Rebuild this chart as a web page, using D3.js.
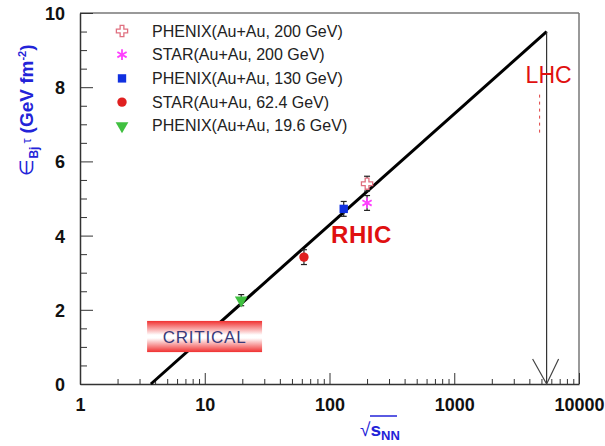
<!DOCTYPE html>
<html>
<head>
<meta charset="utf-8">
<script src="https://cdn.jsdelivr.net/npm/d3@7"></script>
<style>
  body { margin: 0; background: #fff; }
  svg { font-family: "Liberation Sans", Arial, sans-serif; }
</style>
</head>
<body>
<div id="chart"></div>
<script>
const seriesLabels = [
  "PHENIX(Au+Au, 200 GeV)",
  "STAR(Au+Au, 200 GeV)",
  "PHENIX(Au+Au, 130 GeV)",
  "STAR(Au+Au, 62.4 GeV)",
  "PHENIX(Au+Au, 19.6 GeV)"
];
const energies = [200, 200, 130, 62.4, 19.6];
const values = [5.4, 4.88, 4.72, 3.42, 2.26];
const errors = [0.2, 0.2, 0.2, 0.2, 0.15];
const fitLine = [[3.7, 0], [5500, 9.5]];
const lhcEnergy = 5500;
const criticalBand = { x: [3.45, 28.8], y: [0.86, 1.7] };
const xTicks = [1, 10, 100, 1000, 10000];
const yTicks = [0, 2, 4, 6, 8, 10];

const width = 605, height = 446;
const margin = { top: 13, right: 26, bottom: 62, left: 80 };
const chartWidth = width - margin.left - margin.right;
const chartHeight = height - margin.top - margin.bottom;

const svg = d3.select("#chart").append("svg")
  .attr("width", width)
  .attr("height", height);

const g = svg.append("g").attr("transform", `translate(${margin.left},${margin.top})`);

const x = d3.scaleLog().domain([1, 10000]).range([0, chartWidth]);
const y = d3.scaleLinear().domain([0, 10]).range([chartHeight, 0]);

// gradient for the CRITICAL band
const grad = svg.append("defs").append("linearGradient")
  .attr("id", "crit").attr("x1", 0).attr("x2", 0).attr("y1", 0).attr("y2", 1);
grad.append("stop").attr("offset", "0%").attr("stop-color", "#f03030");
grad.append("stop").attr("offset", "45%").attr("stop-color", "#ffffff");
grad.append("stop").attr("offset", "55%").attr("stop-color", "#ffffff");
grad.append("stop").attr("offset", "100%").attr("stop-color", "#f03030");

// frame (top and right)
g.append("line").attr("x1", 0).attr("x2", chartWidth).attr("y1", 0).attr("y2", 0)
  .attr("stroke", "#777").attr("stroke-width", 1.5);
g.append("line").attr("x1", chartWidth).attr("x2", chartWidth).attr("y1", 0).attr("y2", chartHeight)
  .attr("stroke", "#777").attr("stroke-width", 1.5);

// minor ticks
const xMinor = [];
for (let d = 1; d < 10000; d *= 10) for (let k = 2; k <= 9; k++) xMinor.push(d * k);
g.append("g").attr("transform", `translate(0,${chartHeight})`)
  .call(d3.axisBottom(x).tickValues(xMinor).tickSizeInner(-5).tickSizeOuter(0).tickFormat(""))
  .call(a => a.select(".domain").remove())
  .selectAll("line").attr("stroke", "#333");

const yMinor = d3.range(0, 10.01, 0.5).filter(v => v % 2 !== 0);
g.append("g")
  .call(d3.axisLeft(y).tickValues(yMinor).tickSizeInner(-7).tickSizeOuter(0).tickFormat(""))
  .call(a => a.select(".domain").remove())
  .selectAll("line").attr("stroke", "#333");

// major axes
const xAxis = g.append("g").attr("transform", `translate(0,${chartHeight})`)
  .call(d3.axisBottom(x).tickValues(xTicks).tickSizeInner(-11).tickSizeOuter(0)
    .tickPadding(14).tickFormat(d3.format("d")));
const yAxis = g.append("g")
  .call(d3.axisLeft(y).tickValues(yTicks).tickSizeInner(-13).tickSizeOuter(0)
    .tickPadding(15).tickFormat(d3.format("d")));

[xAxis, yAxis].forEach(a => {
  a.select(".domain").attr("stroke", "#333").attr("stroke-width", 1.5);
  a.selectAll("line").attr("stroke", "#333");
  a.selectAll("text").attr("font-size", "18px").attr("font-weight", "bold")
    .attr("fill", "#111").attr("font-family", "'Liberation Sans', Arial, sans-serif");
});
yAxis.selectAll("text").attr("dy", "0.36em");

// fit line
g.append("path")
  .datum(fitLine)
  .attr("fill", "none")
  .attr("stroke", "#000")
  .attr("stroke-width", 3)
  .attr("d", d3.line().x(d => x(d[0])).y(d => y(d[1])));

// CRITICAL band (drawn over the line)
g.append("rect")
  .attr("x", x(criticalBand.x[0]))
  .attr("y", y(criticalBand.y[1]))
  .attr("width", x(criticalBand.x[1]) - x(criticalBand.x[0]))
  .attr("height", y(criticalBand.y[0]) - y(criticalBand.y[1]))
  .attr("fill", "url(#crit)");

g.append("text")
  .attr("x", (x(criticalBand.x[0]) + x(criticalBand.x[1])) / 2)
  .attr("y", y((criticalBand.y[0] + criticalBand.y[1]) / 2) + 6)
  .attr("text-anchor", "middle")
  .attr("font-size", "17px")
  .attr("letter-spacing", "0.8px")
  .attr("fill", "#3a3a7a")
  .text("CRITICAL");

// LHC vertical line with arrow head
const lx = x(lhcEnergy);
g.append("line").attr("x1", lx).attr("x2", lx).attr("y1", y(fitLine[1][1])).attr("y2", chartHeight)
  .attr("stroke", "#333").attr("stroke-width", 1.2);
g.append("path")
  .attr("d", `M${lx - 14},${chartHeight - 25}L${lx},${chartHeight}L${lx + 12},${chartHeight - 25}`)
  .attr("fill", "none").attr("stroke", "#444").attr("stroke-width", 1.2);

g.append("text")
  .attr("x", lx - 21).attr("y", y(8.1))
  .attr("font-size", "23px").attr("fill", "#e01010")
  .text("LHC");
g.append("line")
  .attr("x1", lx - 7).attr("x2", lx - 7).attr("y1", y(7.8)).attr("y2", y(6.7))
  .attr("stroke", "#e04040").attr("stroke-width", 1).attr("stroke-dasharray", "3,4");

g.append("text")
  .attr("x", x(103)).attr("y", y(3.8))
  .attr("font-size", "24px").attr("font-weight", "bold").attr("fill", "#e01010")
  .attr("letter-spacing", "0.5px")
  .text("RHIC");

// markers
const colors = ["#e07080", "#ff40ff", "#1030e0", "#e02020", "#40c040"];
function drawMarker(sel, i) {
  if (i === 0) {
    sel.append("path").attr("d", d3.symbol(d3.symbolCross, 70)())
      .attr("fill", "#fff").attr("stroke", colors[i]).attr("stroke-width", 1.3);
  } else if (i === 1) {
    sel.append("path").attr("d", d3.symbol(d3.symbolAsterisk, 80)())
      .attr("fill", "none").attr("stroke", colors[i]).attr("stroke-width", 1.8);
  } else if (i === 2) {
    sel.append("path").attr("d", d3.symbol(d3.symbolSquare, 70)()).attr("fill", colors[i]);
  } else if (i === 3) {
    sel.append("path").attr("d", d3.symbol(d3.symbolCircle, 70)()).attr("fill", colors[i]);
  } else {
    sel.append("path").attr("d", d3.symbol(d3.symbolTriangle, 70)())
      .attr("transform", "rotate(180)").attr("fill", colors[i]);
  }
}

// error bars
const pts = energies.map((e, i) => ({ e, v: values[i], err: errors[i], i }));
const eb = g.selectAll(".err").data(pts).enter().append("g");
eb.append("line")
  .attr("x1", d => x(d.e)).attr("x2", d => x(d.e))
  .attr("y1", d => y(d.v + d.err)).attr("y2", d => y(d.v - d.err))
  .attr("stroke", "#222").attr("stroke-width", 1.2);
[1, -1].forEach(s => {
  eb.append("line")
    .attr("x1", d => x(d.e) - 3).attr("x2", d => x(d.e) + 3)
    .attr("y1", d => y(d.v + s * d.err)).attr("y2", d => y(d.v + s * d.err))
    .attr("stroke", "#222").attr("stroke-width", 1.2);
});

g.selectAll(".pt").data(pts).enter().append("g")
  .attr("transform", d => `translate(${x(d.e)},${y(d.v)})`)
  .each(function (d) { drawMarker(d3.select(this), d.i); });

// legend
const legend = svg.append("g").attr("transform", "translate(122,31)");
seriesLabels.forEach((label, i) => {
  const row = legend.append("g").attr("transform", `translate(0,${i * 23.7})`);
  drawMarker(row, i);
  row.append("text").attr("x", 30).attr("y", 5.5)
    .attr("font-size", "16px").attr("fill", "#222").text(label);
});

// y label
const yl = svg.append("text")
  .attr("transform", "translate(33,110) rotate(-90)")
  .attr("text-anchor", "middle")
  .attr("fill", "#2323d8")
  .attr("font-weight", "bold")
  .attr("font-size", "19px");
yl.append("tspan").attr("font-weight", "normal").text("\u2208");
yl.append("tspan").attr("font-size", "12px").attr("dy", "5").text("Bj");
yl.append("tspan").attr("font-size", "13px").attr("font-weight", "normal").attr("dy", "-7").attr("dx", "3").text("\u03c4");
yl.append("tspan").attr("dy", "2").attr("dx", "5").text("(GeV fm");
yl.append("tspan").attr("font-size", "11px").attr("dy", "-7").text("-2");
yl.append("tspan").attr("dy", "7").text(")");

// x label
const xl = svg.append("text")
  .attr("x", 360).attr("y", 436)
  .attr("fill", "#2323d8")
  .attr("font-weight", "bold")
  .attr("font-size", "19px");
xl.append("tspan").attr("font-weight", "normal").text("\u221a");
xl.append("tspan").text("s");
xl.append("tspan").attr("font-size", "13px").attr("dy", "4").text("NN");
svg.append("line").attr("x1", 370).attr("x2", 397).attr("y1", 416).attr("y2", 416)
  .attr("stroke", "#2323d8").attr("stroke-width", 1.5);
</script>
</body>
</html>
